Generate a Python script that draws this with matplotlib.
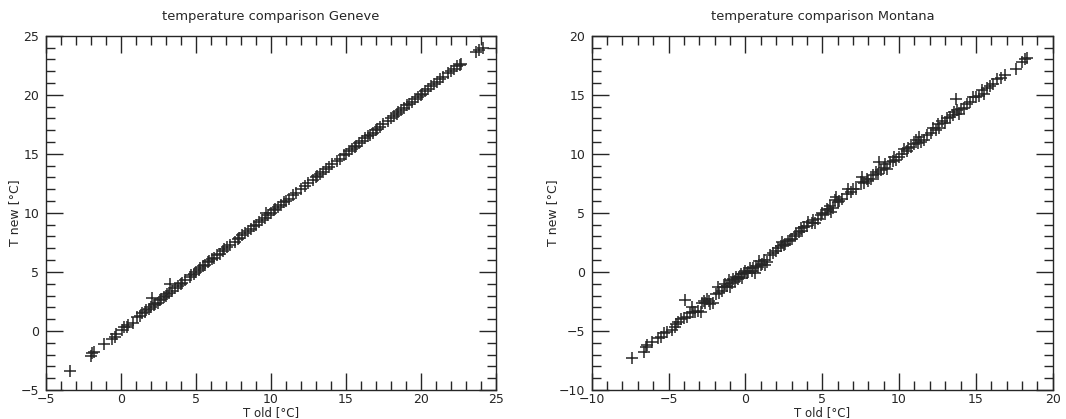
import matplotlib
matplotlib.use("Agg")
import matplotlib.pyplot as plt
from matplotlib.ticker import MultipleLocator

# Geneve: old vs new temperature
geneve_old = [-3.4, -2.0, -1.9, -1.8, -1.1, -0.6, -0.4, -0.3, 0.1, 0.2, 0.4, 0.5, 0.8,
              1.1, 1.3, 1.4, 1.6, 1.7, 1.9, 2.0, 2.1, 2.2, 2.3, 2.5, 2.6, 2.7, 2.9, 3.0,
              3.1, 3.2, 3.3, 3.4, 3.6, 3.8, 4.0, 4.1, 4.3, 4.6, 4.7, 4.9, 5.0, 5.2, 5.3,
              5.5, 5.6, 5.8, 5.9, 6.1, 6.2, 6.4, 6.6, 6.8, 6.9, 7.1, 7.3, 7.6, 7.8, 7.9,
              8.1, 8.3, 8.5, 8.7, 8.9, 9.0, 9.2, 9.4, 9.6, 9.7, 9.8, 10.0, 10.2, 10.3,
              10.5, 10.7, 10.9, 11.0, 11.2, 11.5, 11.7, 12.0, 12.3, 12.5, 12.8, 13.0,
              13.1, 13.3, 13.5, 13.7, 13.9, 14.1, 14.4, 14.6, 14.9, 15.0, 15.2, 15.4,
              15.6, 15.7, 15.9, 16.1, 16.3, 16.5, 16.6, 16.8, 17.0, 17.1, 17.3, 17.5,
              17.8, 18.0, 18.2, 18.4, 18.5, 18.7, 18.9, 19.1, 19.2, 19.4, 19.6, 19.8,
              20.0, 20.1, 20.3, 20.5, 20.7, 20.9, 21.1, 21.3, 21.5, 21.8, 22.0, 22.2,
              22.4, 22.6, 22.7, 23.7, 23.9, 24.1]
geneve_new = [-3.4, -2.1, -1.9, -1.8, -1.1, -0.7, -0.5, -0.3, 0.1, 0.3, 0.3, 0.5, 0.7,
              1.2, 1.3, 1.5, 1.6, 1.8, 1.9, 2.0, 2.8, 2.2, 2.3, 2.4, 2.6, 2.7, 2.9, 3.0,
              3.1, 3.2, 4.0, 3.4, 3.6, 3.8, 4.0, 4.1, 4.3, 4.6, 4.7, 4.8, 5.0, 5.2, 5.3,
              5.5, 5.6, 5.8, 5.9, 6.1, 6.2, 6.4, 6.5, 6.8, 6.9, 7.1, 7.3, 7.5, 7.8, 7.9,
              8.1, 8.3, 8.5, 8.6, 8.9, 9.0, 9.2, 9.4, 9.6, 10.0, 9.8, 10.0, 10.2, 10.3,
              10.5, 10.7, 10.9, 11.0, 11.2, 11.5, 11.7, 12.0, 12.3, 12.5, 12.8, 13.0,
              13.1, 13.3, 13.5, 13.7, 13.9, 14.1, 14.4, 14.6, 14.9, 15.0, 15.2, 15.4,
              15.6, 15.7, 15.9, 16.1, 16.3, 16.5, 16.6, 16.8, 17.0, 17.1, 17.3, 17.5,
              17.8, 18.0, 18.2, 18.4, 18.5, 18.7, 18.9, 19.1, 19.2, 19.4, 19.6, 19.8,
              20.0, 20.1, 20.3, 20.5, 20.7, 20.9, 21.1, 21.3, 21.5, 21.8, 22.0, 22.2,
              22.4, 22.5, 22.6, 23.6, 23.8, 24.0]

# Montana: old vs new temperature
montana_old = [-7.4, -6.6, -6.5, -6.4, -6.1, -5.7, -5.5, -5.3, -5.1, -4.8, -4.6, -4.5,
               -4.4, -4.2, -4.0, -3.9, -3.8, -3.6, -3.5, -3.4, -3.3, -3.1, -2.9, -2.8,
               -2.7, -2.6, -2.5, -2.4, -2.3, -2.1, -1.9, -1.8, -1.7, -1.5, -1.4, -1.3,
               -1.2, -1.1, -1.0, -0.9, -0.8, -0.7, -0.6, -0.5, -0.4, -0.3, -0.2, -0.1,
               0.0, 0.1, 0.2, 0.3, 0.4, 0.5, 0.6, 0.7, 0.8, 0.9, 1.0, 1.1, 1.2, 1.3,
               1.4, 1.6, 1.8, 2.0, 2.1, 2.3, 2.4, 2.5, 2.6, 2.8, 2.9, 3.0, 3.2, 3.3,
               3.5, 3.6, 3.7, 3.8, 4.0, 4.1, 4.3, 4.4, 4.5, 4.7, 4.9, 5.0, 5.2, 5.3,
               5.4, 5.5, 5.6, 5.7, 5.8, 5.9, 6.0, 6.1, 6.3, 6.6, 6.7, 6.9, 7.0, 7.2,
               7.5, 7.6, 7.7, 7.9, 8.0, 8.2, 8.3, 8.5, 8.6, 8.7, 8.8, 9.0, 9.1, 9.2,
               9.4, 9.6, 9.7, 9.8, 10.0, 10.2, 10.3, 10.5, 10.6, 10.8, 11.0, 11.1,
               11.2, 11.3, 11.4, 11.6, 11.8, 12.1, 12.2, 12.4, 12.5, 12.6, 12.8, 13.0,
               13.1, 13.3, 13.5, 13.6, 13.7, 13.8, 13.9, 14.0, 14.2, 14.4, 14.6, 14.8,
               15.0, 15.2, 15.4, 15.5, 15.7, 15.9, 16.1, 16.4, 16.6, 16.9, 17.6, 18.0,
               18.2, 18.3]
montana_new = [-7.3, -6.8, -6.4, -6.2, -5.9, -5.6, -5.5, -5.2, -5.1, -4.9, -4.7, -4.4,
               -4.2, -4.0, -3.9, -2.4, -3.8, -3.5, -3.0, -3.4, -3.4, -3.3, -3.4, -2.6,
               -2.5, -2.6, -2.3, -2.5, -2.7, -2.6, -1.9, -1.3, -1.8, -1.6, -1.3, -1.0,
               -1.2, -0.7, -1.3, -0.9, -0.6, -0.8, -0.4, -0.6, -0.4, -0.2, -0.5, -0.1,
               0.1, -0.1, 0.0, 0.3, 0.1, 0.3, -0.1, 0.5, 0.4, 0.9, 0.6, 0.7, 1.0, 0.6,
               0.8, 1.4, 1.6, 1.8, 2.0, 2.2, 2.5, 2.3, 2.4, 2.6, 2.7, 2.8, 3.0, 3.2,
               3.4, 3.7, 3.5, 3.8, 3.9, 4.2, 4.1, 4.4, 4.1, 4.5, 4.8, 5.0, 4.9, 5.3,
               5.2, 5.6, 5.1, 5.4, 6.1, 6.3, 5.9, 6.0, 6.2, 6.6, 7.0, 6.8, 7.0, 7.0,
               7.6, 8.0, 7.5, 7.9, 7.7, 7.9, 8.2, 8.5, 8.3, 9.3, 8.6, 8.8, 9.1, 8.7,
               9.3, 9.4, 9.7, 9.5, 9.7, 10.0, 10.4, 10.2, 10.5, 10.6, 10.8, 11.2,
               10.9, 11.4, 11.0, 11.2, 11.6, 11.8, 12.2, 12.0, 12.5, 12.2, 12.8, 12.6,
               13.0, 13.1, 13.3, 13.5, 14.6, 13.7, 13.4, 13.8, 13.9, 14.2, 14.4, 14.8,
               14.8, 14.9, 15.4, 15.1, 15.6, 15.7, 15.9, 16.3, 16.4, 16.7, 17.2, 17.8,
               18.0, 18.1]

panels = [
    ("temperature comparison Geneve", geneve_old, geneve_new, (-5, 25), (-5, 25)),
    ("temperature comparison Montana", montana_old, montana_new, (-10, 20), (-10, 20)),
]

ink = "#262626"
fig = plt.figure(figsize=(10.66, 4.19), dpi=100)
boxes = [[0.0429, 0.0692, 0.4224, 0.8456], [0.5551, 0.0692, 0.4325, 0.8456]]

for box, (title, t_old, t_new, xlim, ylim) in zip(boxes, panels):
    ax = fig.add_axes(box)
    ax.plot(t_old, t_new, linestyle="none", marker="+", markersize=8,
            markeredgewidth=1.1, color=ink)
    ax.set_xlim(*xlim)
    ax.set_ylim(*ylim)
    ax.xaxis.set_major_locator(MultipleLocator(5))
    ax.yaxis.set_major_locator(MultipleLocator(5))
    ax.xaxis.set_minor_locator(MultipleLocator(1))
    ax.yaxis.set_minor_locator(MultipleLocator(1))
    ax.tick_params(which="both", direction="in", top=True, right=True,
                   color=ink, width=1.0, labelsize=9, labelcolor=ink)
    ax.tick_params(which="major", length=12)
    ax.tick_params(which="minor", length=6.5)
    ax.tick_params(axis="x", pad=2.5)
    ax.tick_params(axis="y", pad=4.5)
    for s in ax.spines.values():
        s.set_color(ink)
        s.set_linewidth(1.0)
    ax.set_title(title, fontsize=9.4, color=ink, pad=11)
    ax.set_xlabel("T old [°C]", fontsize=8.5, color=ink, labelpad=0)
    ax.set_ylabel("T new [°C]", fontsize=9, color=ink, labelpad=0)

fig.savefig("out.png", dpi=100)
